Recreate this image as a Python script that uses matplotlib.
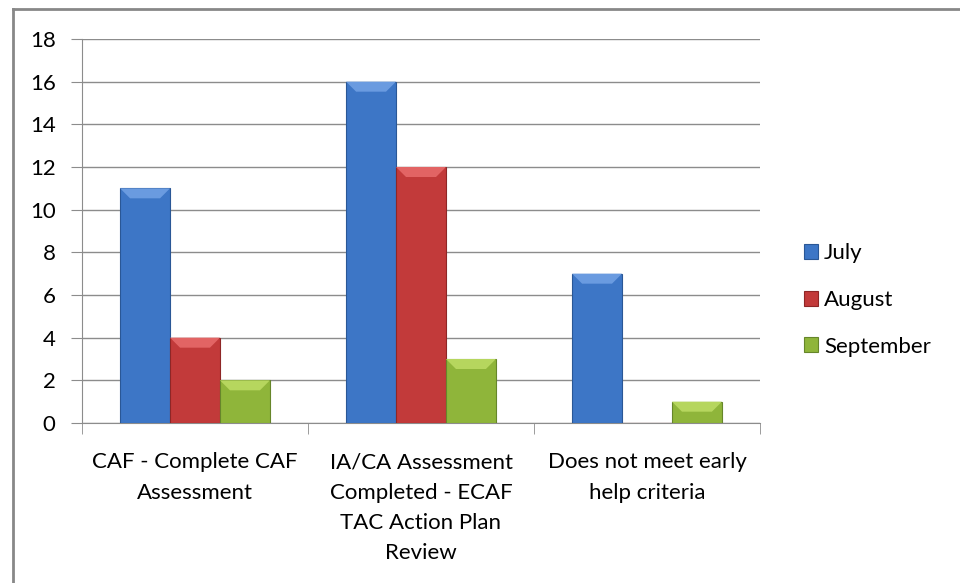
import matplotlib
matplotlib.use('Agg')
import matplotlib.pyplot as plt
import numpy as np
from matplotlib.patches import Polygon
from matplotlib.lines import Line2D

categories = ['CAF - Complete CAF\nAssessment',
              'IA/CA Assessment\nCompleted - ECAF\nTAC Action Plan\nReview',
              'Does not meet early\nhelp criteria']
july = [11, 16, 7]
august = [4, 12, 0]
september = [2, 3, 1]
series_names = ['July', 'August', 'September']

face = ['#3d76c6', '#c23a3a', '#8fb53a']
edge = ['#2a5796', '#8e2626', '#66862a']
bevel = ['#6a9be0', '#e26464', '#b6d65e']

plt.rcParams['font.family'] = ['Lato', 'DejaVu Sans']

fig = plt.figure(figsize=(9.6, 5.83), dpi=100)
ax = fig.add_axes([82 / 960, 1 - 423 / 583, (760 - 82) / 960, (423 - 39) / 583])

x = np.arange(len(categories))
width = 0.221
bars = []
for i, vals in enumerate([july, august, september]):
    b = ax.bar(x + (i - 1) * width, vals, width, color=face[i], edgecolor=edge[i],
               linewidth=0.8, label=series_names[i], zorder=3)
    bars.append(b)

ax.set_xlim(-0.5, 2.5)
ax.set_ylim(0, 18)
ax.set_yticks(range(0, 19, 2))
ax.set_xticks(x)
ax.set_xticklabels(categories, fontsize=16, linespacing=1.65)
ax.set_xticks([-0.5, 0.5, 1.5, 2.5], minor=True)
ax.tick_params(axis='x', which='major', length=0, pad=21)
ax.tick_params(axis='x', which='minor', length=8, color='#8c8c8c', direction='out')
ax.tick_params(axis='y', length=8, color='#8c8c8c', labelsize=16, pad=11)
ax.grid(axis='y', color='#8c8c8c', linewidth=1, zorder=0)
for s in ['top', 'right']:
    ax.spines[s].set_visible(False)
ax.spines['left'].set_color('#8c8c8c')
ax.spines['bottom'].set_color('#8c8c8c')

# bevel on top of each bar
fig.canvas.draw()
inv = ax.transData.inverted()
for i, b in enumerate(bars):
    for p in b.patches:
        if p.get_height() <= 0:
            continue
        x0, y1 = ax.transData.transform((p.get_x(), p.get_height()))
        x1, _ = ax.transData.transform((p.get_x() + p.get_width(), p.get_height()))
        d = 10
        pts = [(x0, y1), (x1, y1), (x1 - d, y1 - d), (x0 + d, y1 - d)]
        pts = inv.transform(pts)
        ax.add_patch(Polygon(pts, closed=True, facecolor=bevel[i], edgecolor='none', zorder=4))

leg = fig.legend(handles=[b.patches[0] for b in bars], labels=series_names,
                 loc='center left', bbox_to_anchor=(784 / 960, 1 - 300 / 583),
                 frameon=False, fontsize=16, handlelength=0.65, handleheight=0.65,
                 handletextpad=0.25, labelspacing=1.2)

# outer chart border
fig.add_artist(Line2D([13 / 960, 13 / 960], [0, 1 - 9 / 583], transform=fig.transFigure,
                      color='#888888', linewidth=2))
fig.add_artist(Line2D([13 / 960, 1], [1 - 9 / 583, 1 - 9 / 583], transform=fig.transFigure,
                      color='#888888', linewidth=2))

fig.savefig('out.png', dpi=100)
